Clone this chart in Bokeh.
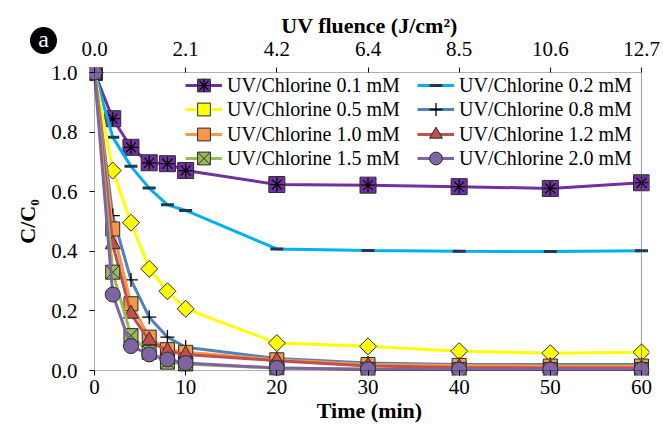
import math
from bokeh.plotting import figure
from bokeh.layouts import column
from bokeh.models import (Range1d, LinearAxis, FixedTicker, NumeralTickFormatter,
                          Legend, LegendItem, BoxAnnotation, Div)
from bokeh.embed import file_html
from bokeh.resources import INLINE

# ---------------- data ----------------
time_min = [0, 2, 4, 6, 8, 10, 20, 30, 40, 50, 60]
time_ticks = [0, 10, 20, 30, 40, 50, 60]
fluence_labels = ["0.0", "2.1", "4.2", "6.4", "8.5", "10.6", "12.7"]
y_ticks = [0.0, 0.2, 0.4, 0.6, 0.8, 1.0]

c_01 = [1.0, 0.845, 0.749, 0.697, 0.694, 0.671, 0.624, 0.622, 0.617, 0.611, 0.630]
c_02 = [1.0, 0.783, 0.685, 0.612, 0.556, 0.537, 0.408, 0.403, 0.400, 0.399, 0.402]
c_05 = [1.0, 0.671, 0.496, 0.341, 0.266, 0.207, 0.092, 0.081, 0.065, 0.058, 0.061]
c_08 = [1.0, 0.520, 0.304, 0.179, 0.112, 0.078, 0.040, 0.025, 0.020, 0.020, 0.020]
c_10 = [1.0, 0.475, 0.224, 0.112, 0.070, 0.061, 0.036, 0.020, 0.017, 0.015, 0.015]
c_12 = [1.0, 0.423, 0.190, 0.101, 0.065, 0.054, 0.033, 0.015, 0.010, 0.008, 0.008]
c_15 = [1.0, 0.330, 0.117, 0.061, 0.028, 0.022, 0.008, 0.004, 0.003, 0.003, 0.003]
c_20 = [1.0, 0.255, 0.082, 0.054, 0.037, 0.025, 0.008, 0.004, 0.003, 0.003, 0.003]

labels = ["UV/Chlorine 0.1 mM", "UV/Chlorine 0.2 mM", "UV/Chlorine 0.5 mM",
          "UV/Chlorine 0.8 mM", "UV/Chlorine 1.0 mM", "UV/Chlorine 1.2 mM",
          "UV/Chlorine 1.5 mM", "UV/Chlorine 2.0 mM"]

FONT = "Liberation Serif"
EDGE = "#2b2b2b"

# frame: left 89, right 649, top 67, bottom 375 ; data box 0..60 -> 94..641, 0..1 -> 370..72
PX_X = (641 - 94) / 60.0
PX_Y = (370 - 72) / 1.0
p = figure(width=663, height=425, output_backend="svg", toolbar_location=None,
           x_range=Range1d(-5 / PX_X, 60 + 8 / PX_X),
           y_range=Range1d(-5 / PX_Y, 1 + 5 / PX_Y),
           min_border_left=89, min_border_right=14, min_border_top=67,
           min_border_bottom=50)
p.grid.visible = False
p.outline_line_color = None
p.background_fill_color = "white"
p.border_fill_color = "white"


def style_axis(ax, standoff, title, title_standoff):
    ax.axis_line_color = None
    ax.major_tick_line_color = "black"
    ax.major_tick_in = 5
    ax.major_tick_out = 0
    ax.minor_tick_line_color = None
    ax.major_label_text_font = FONT
    ax.major_label_text_font_size = "21px"
    ax.major_label_text_color = "black"
    ax.major_label_standoff = standoff
    ax.axis_label = title
    ax.axis_label_text_font = FONT
    ax.axis_label_text_font_style = "bold"
    ax.axis_label_text_font_size = "22px"
    ax.axis_label_text_color = "black"
    ax.axis_label_standoff = title_standoff


xb = p.xaxis[0]
xb.ticker = FixedTicker(ticks=time_ticks)
style_axis(xb, 4, "Time (min)", 1)

yl = p.yaxis[0]
yl.ticker = FixedTicker(ticks=y_ticks)
yl.formatter = NumeralTickFormatter(format="0.0")
style_axis(yl, 12, "C/C₀", 8)

xt = LinearAxis(ticker=FixedTicker(ticks=time_ticks),
                major_label_overrides={t: l for t, l in zip(time_ticks, fluence_labels)})
style_axis(xt, 12, "UV fluence (J/cm²)", 1)
p.add_layout(xt, "above")

# axis frame through the data origin, gray right edge
p.add_layout(BoxAnnotation(left=0, right=60, bottom=0, top=1, fill_alpha=0,
                           line_color="black", line_width=1))
p.add_layout(BoxAnnotation(left=60, right=60, bottom=0, top=1, fill_alpha=0,
                           line_color="#8c8c8c", line_width=1.5))

# ---------------- series ----------------
items = {}

l = p.line(time_min, c_01, line_color="#7030A0", line_width=3)
m1 = p.scatter(time_min, c_01, marker="square", size=16, fill_color="#7030A0", line_color=EDGE)
m2 = p.scatter(time_min, c_01, marker="asterisk", size=14, line_color="black", line_width=1.2)
items[labels[0]] = [l, m1, m2]

l = p.line(time_min, c_02, line_color="#00B0F0", line_width=3)
m1 = p.scatter(time_min, c_02, marker="dash", size=13, line_color="#1F3A55", line_width=3)
items[labels[1]] = [l, m1]

l = p.line(time_min, c_05, line_color="#FFFF00", line_width=3)
m1 = p.scatter(time_min, c_05, marker="square", angle=math.pi / 4, size=12,
               fill_color="#FFFF00", line_color=EDGE)
items[labels[2]] = [l, m1]

l = p.line(time_min, c_08, line_color="#4F81BD", line_width=3)
m1 = p.scatter(time_min, c_08, marker="cross", size=14, line_color="black", line_width=1.3)
items[labels[3]] = [l, m1]

l = p.line(time_min, c_10, line_color="#F79646", line_width=3)
m1 = p.scatter(time_min, c_10, marker="square", size=14, fill_color="#F79646", line_color=EDGE)
items[labels[4]] = [l, m1]

l = p.line(time_min, c_12, line_color="#C0504D", line_width=3)
m1 = p.scatter(time_min, c_12, marker="triangle", size=15, fill_color="#C0504D", line_color=EDGE)
items[labels[5]] = [l, m1]

l = p.line(time_min, c_15, line_color="#9BBB59", line_width=3)
m1 = p.scatter(time_min, c_15, marker="square_x", size=14, fill_color="#9BBB59", line_color=EDGE)
items[labels[6]] = [l, m1]

l = p.line(time_min, c_20, line_color="#8064A2", line_width=3)
m1 = p.scatter(time_min, c_20, marker="circle", size=15, fill_color="#8064A2", line_color=EDGE)
items[labels[7]] = [l, m1]

# one legend per entry, so the rows can sit closer than the glyph box height
col_x = [96, 328]
row_y = [274, 250, 225, 201]
for i, name in enumerate(labels):
    leg = Legend(items=[LegendItem(label=name, renderers=items[name])],
                 location=(col_x[i % 2], row_y[i // 2]), orientation="vertical",
                 glyph_width=37, glyph_height=32, spacing=0, padding=0, margin=0,
                 label_standoff=5, label_height=20,
                 label_text_font=FONT, label_text_font_size="20px",
                 label_text_color="black",
                 border_line_color=None, background_fill_alpha=0)
    p.add_layout(leg, "center")

# panel badge "a", laid over the top-left corner of the figure
badge = Div(text="a", width=27, height=27,
            styles={"position": "absolute", "left": "25px", "top": "22px",
                    "z-index": "10", "width": "27px", "height": "27px",
                    "border-radius": "50%", "background-color": "black",
                    "color": "white", "font-family": "'Liberation Serif'",
                    "font-size": "24px", "line-height": "25px",
                    "text-align": "center"})

layout = column(p, badge, spacing=0)
open("out.html", "w").write(file_html(layout, INLINE))
